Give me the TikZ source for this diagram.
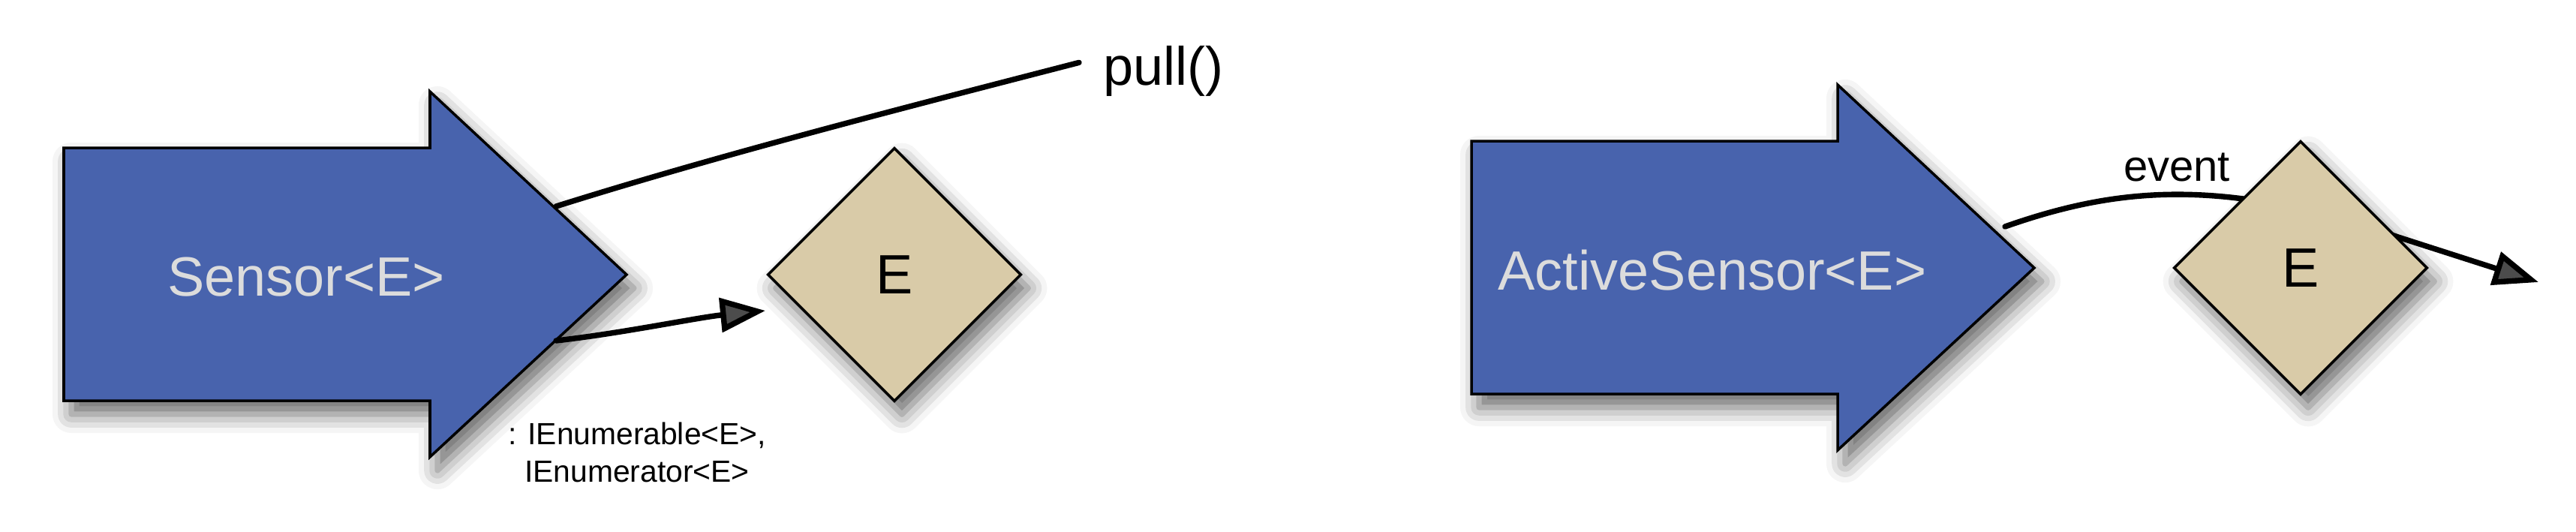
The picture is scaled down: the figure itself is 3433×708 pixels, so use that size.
\documentclass[tikz,border=0pt]{standalone}
\usepackage{fontspec}
\setmainfont{Liberation Sans}
\usetikzlibrary{arrows.meta,shapes.geometric,shadows.blur}

\definecolor{sensorblue}{RGB}{72,99,173}
\definecolor{itemtan}{RGB}{217,203,168}
\definecolor{sensortext}{RGB}{220,220,220}

\tikzset{
  sensor/.style={draw=black, line width=1pt, fill=sensorblue, line join=miter,
    blur shadow={shadow xshift=0.1cm, shadow yshift=-0.18cm, shadow blur radius=0.25cm, shadow opacity=60}},
  item/.style={diamond, draw=black, line width=1pt, fill=itemtan, aspect=1,
    minimum width=3.38cm, minimum height=3.38cm, inner sep=0pt,
    font=\fontsize{21pt}{25pt}\selectfont,
    blur shadow={shadow xshift=0.1cm, shadow yshift=-0.18cm, shadow blur radius=0.25cm, shadow opacity=60}},
  conn/.style={line width=2.1pt, line cap=round},
  tip/.style={-{Triangle[length=0.6cm, width=0.45cm]}},
  sensorname/.style={text=sensortext, inner sep=0pt, anchor=base, font=\fontsize{21pt}{25pt}\selectfont},
}

\begin{document}
\begin{tikzpicture}[x=0.01cm, y=-0.01cm]
                \useasboundingbox (0,0) rectangle (3433,708);

                % pull side
                \draw[sensor] (85,197) -- (573,197) -- (573,122) -- (835,366) -- (573,609) -- (573,534) -- (85,534) -- cycle;
                \node[sensorname] (sensor) at (408,394) {Sensor<E>};
                \coordinate (pullstart) at (741,275);
                \coordinate (enumstart) at (741,454);
                \coordinate (enumtip) at (1020,414);

                \node[item] (e1) at (1192,366) {E};
                \node[anchor=base west, inner ysep=0pt, inner xsep=0.32cm, font=\fontsize{20.5pt}{24pt}\selectfont] (pull) at (1438,113) {pull()};
                \node[anchor=north, inner sep=0pt, align=center, font=\fontsize{11.6pt}{14.2pt}\selectfont] (enumtype) at (849,562) {: IEnumerable<E>,\\IEnumerator<E>};

                \draw[conn] (pullstart) .. controls (960,206) and (1215,141) .. ([yshift=0.11cm]pull.west);
                \draw[conn, tip] (enumstart) .. controls (830,444) and (930,423) .. (enumtip);

                % push side
                \draw[sensor] (1961,188) -- (2449,188) -- (2449,113) -- (2711,357) -- (2449,600) -- (2449,525) -- (1961,525) -- cycle;
                \node[sensorname] (active) at (2282,386) {ActiveSensor<E>};
                \coordinate (evstart) at (2672,302);
                \coordinate (evtip) at (3383,376);

                \draw[conn, tip] (evstart) .. controls (2820,250) and (2960,235) .. (3196,316) -- (evtip);
                \node[item] (e2) at (3066,357) {E};
                \node[anchor=base, inner sep=0pt, font=\fontsize{16.5pt}{20pt}\selectfont] (event) at (2901,241) {event};
            \end{tikzpicture}
\end{document}
